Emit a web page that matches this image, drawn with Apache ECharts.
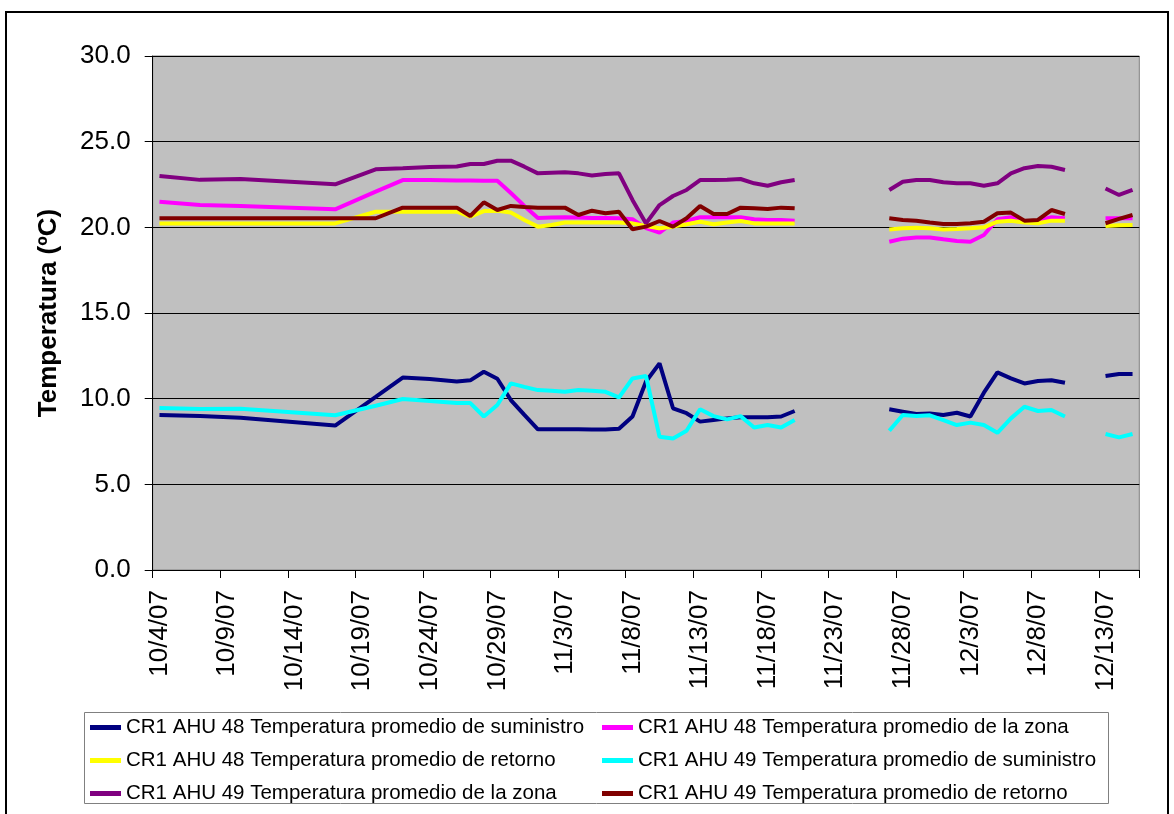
<!DOCTYPE html>
<html>
<head>
<meta charset="utf-8">
<style>
  html, body { margin: 0; padding: 0; background: #ffffff; }
  #chart { width: 1174px; height: 814px; }
</style>
<script src="https://cdn.jsdelivr.net/npm/echarts@6/dist/echarts.min.js"></script>
</head>
<body>
<div id="chart"></div>
<script>
// Axis days: one category per day, 10/4/07 through 12/15/07
const firstDay = new Date(2007, 9, 4);
const dayCount = 73;
const axisDays = [];
for (let k = 0; k < dayCount; k++) {
  const d = new Date(firstDay.getFullYear(), firstDay.getMonth(), firstDay.getDate() + k);
  axisDays.push((d.getMonth() + 1) + '/' + d.getDate() + '/' + String(d.getFullYear()).slice(2));
}

// Days with readings (null values on 11/21 and 12/11 break the lines)
const sampleDates = [
  '10/4/07', '10/7/07', '10/10/07', '10/17/07', '10/20/07', '10/22/07', '10/24/07',
  '10/26/07', '10/27/07', '10/28/07', '10/29/07', '10/30/07', '10/31/07',
  '11/1/07', '11/2/07', '11/3/07', '11/4/07', '11/5/07', '11/6/07', '11/7/07',
  '11/8/07', '11/9/07', '11/10/07', '11/11/07', '11/12/07', '11/13/07', '11/14/07',
  '11/15/07', '11/16/07', '11/17/07', '11/18/07', '11/19/07', '11/20/07',
  '11/21/07',
  '11/27/07', '11/28/07', '11/29/07', '11/30/07', '12/1/07', '12/2/07', '12/3/07',
  '12/4/07', '12/5/07', '12/6/07', '12/7/07', '12/8/07', '12/9/07', '12/10/07',
  '12/11/07',
  '12/13/07', '12/14/07', '12/15/07'
];

const ahu48Suministro = [
  9.05, 8.99, 8.88, 8.43, 10.1, 11.23, 11.15,
  11.0, 11.07, 11.57, 11.16, 9.92, 9.05,
  8.21, 8.21, 8.21, 8.21, 8.2, 8.2, 8.25,
  8.96, 11.0, 12.06, 9.44, 9.15, 8.66, 8.76,
  8.85, 8.91, 8.91, 8.91, 8.96, 9.28,
  null,
  9.38, 9.24, 9.10, 9.14, 9.05, 9.18, 8.96,
  10.35, 11.53, 11.18, 10.89, 11.03, 11.08, 10.93,
  null,
  11.32, 11.44, 11.44
];

const ahu48Zona = [
  21.5, 21.3, 21.25, 21.05, 22.08, 22.76, 22.76,
  22.74, 22.74, 22.72, 22.72, 22.0, 21.25,
  20.55, 20.57, 20.59, 20.57, 20.55, 20.55, 20.53,
  20.47, 19.95, 19.69, 20.28, 20.37, 20.59, 20.59,
  20.59, 20.59, 20.47, 20.43, 20.43, 20.39,
  null,
  19.16, 19.34, 19.41, 19.41, 19.30, 19.20, 19.16,
  19.55, 20.47, 20.59, 20.33, 20.39, 20.59, 20.53,
  null,
  20.53, 20.53, 20.53
];

const ahu48Retorno = [
  20.23, 20.23, 20.23, 20.23, 20.91, 20.91, 20.91,
  20.91, 20.62, 20.95, 20.97, 20.86, 20.43,
  20.04, 20.14, 20.28, 20.28, 20.28, 20.28, 20.28,
  20.23, 20.08, 19.95, 20.04, 20.18, 20.33, 20.18,
  20.28, 20.37, 20.23, 20.23, 20.23, 20.23,
  null,
  19.88, 19.94, 19.98, 19.94, 19.88, 19.90, 19.94,
  20.00, 20.33, 20.39, 20.28, 20.24, 20.39, 20.39,
  null,
  20.08, 20.12, 20.14
];

const ahu49Suministro = [
  9.45, 9.39, 9.41, 9.03, 9.59, 9.98, 9.86,
  9.75, 9.74, 8.96, 9.63, 10.89, 10.69,
  10.50, 10.46, 10.40, 10.50, 10.46, 10.40, 10.07,
  11.18, 11.32, 7.78, 7.68, 8.13, 9.38, 8.98,
  8.79, 8.98, 8.32, 8.46, 8.32, 8.75,
  null,
  8.13, 9.05, 8.99, 9.03, 8.75, 8.46, 8.60,
  8.46, 8.01, 8.85, 9.53, 9.28, 9.34, 8.96,
  null,
  7.94, 7.74, 7.94
];

const ahu49Zona = [
  23.0, 22.77, 22.82, 22.51, 23.39, 23.45, 23.52,
  23.55, 23.70, 23.70, 23.89, 23.89, 23.54,
  23.15, 23.19, 23.21, 23.15, 23.03, 23.11, 23.15,
  21.6, 20.23, 21.30, 21.83, 22.18, 22.76, 22.76,
  22.78, 22.82, 22.57, 22.43, 22.63, 22.76,
  null,
  22.18, 22.66, 22.76, 22.76, 22.63, 22.57, 22.57,
  22.43, 22.57, 23.15, 23.45, 23.58, 23.54, 23.35,
  null,
  22.27, 21.89, 22.18
];

const ahu49Retorno = [
  20.53, 20.53, 20.53, 20.53, 20.53, 21.15, 21.15,
  21.15, 20.66, 21.46, 21.01, 21.25, 21.19,
  21.15, 21.15, 21.15, 20.72, 20.97, 20.82, 20.91,
  19.89, 20.04, 20.37, 20.04, 20.53, 21.25, 20.78,
  20.78, 21.15, 21.11, 21.07, 21.15, 21.11,
  null,
  20.53, 20.43, 20.39, 20.28, 20.20, 20.20, 20.24,
  20.33, 20.82, 20.86, 20.39, 20.43, 21.01, 20.78,
  null,
  20.24, 20.49, 20.72
];

const seriesNames = [
  'CR1 AHU 48 Temperatura promedio de suministro',
  'CR1 AHU 48 Temperatura promedio de la zona',
  'CR1 AHU 48 Temperatura promedio de retorno',
  'CR1 AHU 49 Temperatura promedio de suministro',
  'CR1 AHU 49 Temperatura promedio de la zona',
  'CR1 AHU 49 Temperatura promedio de retorno'
];
const seriesValues = [ahu48Suministro, ahu48Zona, ahu48Retorno, ahu49Suministro, ahu49Zona, ahu49Retorno];
const seriesColors = ['#000080', '#FF00FF', '#FFFF00', '#00FFFF', '#800080', '#800000'];

const yTicks = { min: 0, max: 30, step: 5 };

const FONT = '"Liberation Sans", Arial, sans-serif';

function toPairs(values) {
  return sampleDates.map((d, k) => [d, values[k] == null ? '-' : values[k]]);
}

const chart = echarts.init(document.getElementById('chart'), null, { renderer: 'canvas' });

const legendText = { fontFamily: FONT, fontSize: 20.5, color: '#000', lineHeight: 21 };

chart.setOption({
  animation: false,
  backgroundColor: '#ffffff',
  textStyle: { fontFamily: FONT },
  graphic: [
    {
      type: 'rect', silent: true, z: -10,
      shape: { x: 6, y: 12, width: 1162, height: 812 },
      style: { fill: 'none', stroke: '#000', lineWidth: 2 }
    },
    {
      type: 'rect', silent: true, z: -5,
      shape: { x: 84.5, y: 712.5, width: 1024, height: 91 },
      style: { fill: '#fff', stroke: '#808080', lineWidth: 1 }
    }
  ],
  grid: {
    left: 152.7, right: 34.7, top: 56, bottom: 244,
    show: true, backgroundColor: '#C0C0C0', borderColor: '#808080', borderWidth: 1
  },
  legend: [
    {
      orient: 'vertical', left: 85, top: 712, itemGap: 12,
      itemWidth: 31, itemHeight: 5, icon: 'rect',
      data: [seriesNames[0], seriesNames[2], seriesNames[4]],
      textStyle: legendText
    },
    {
      orient: 'vertical', left: 597, top: 712, itemGap: 12,
      itemWidth: 31, itemHeight: 5, icon: 'rect',
      data: [seriesNames[1], seriesNames[3], seriesNames[5]],
      textStyle: legendText
    }
  ],
  xAxis: {
    type: 'category',
    data: axisDays,
    boundaryGap: true,
    axisLine: { show: true, lineStyle: { color: '#000', width: 1 } },
    axisTick: { show: true, interval: 4, length: 8, lineStyle: { color: '#000' } },
    axisLabel: {
      interval: 4, rotate: 90, margin: 20,
      fontFamily: FONT, fontSize: 26, color: '#000'
    },
    splitLine: { show: false }
  },
  yAxis: {
    type: 'value',
    min: yTicks.min, max: yTicks.max, interval: yTicks.step,
    name: 'Temperatura (ºC)',
    nameLocation: 'middle',
    nameGap: 91,
    nameTextStyle: { fontFamily: FONT, fontSize: 26, fontWeight: 'bold', color: '#000' },
    axisLine: { show: true, lineStyle: { color: '#000', width: 1 } },
    axisTick: { show: true, length: 8, lineStyle: { color: '#000' } },
    axisLabel: {
      margin: 22, fontFamily: FONT, fontSize: 26, color: '#000',
      formatter: v => v.toFixed(1)
    },
    splitLine: { show: true, lineStyle: { color: '#000', width: 1 } }
  },
  series: seriesNames.map((name, k) => ({
    name,
    type: 'line',
    data: toPairs(seriesValues[k]),
    connectNulls: false,
    showSymbol: false,
    symbol: 'none',
    color: seriesColors[k],
    lineStyle: { color: seriesColors[k], width: 4 },
    emphasis: { disabled: true }
  }))
});
</script>
</body>
</html>
